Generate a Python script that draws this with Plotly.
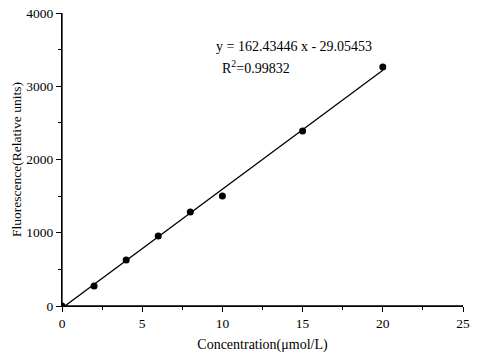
import plotly.graph_objects as go

conc = [0, 2, 4, 6, 8, 10, 15, 20]
fluor = [0, 273, 628, 956, 1283, 1502, 2389, 3263]
slope = 162.43446
intercept = -29.05453
r2 = 0.99832
fit_x = [0, 20]
fit_y = [slope * v + intercept for v in fit_x]

font_family = "Liberation Serif, Times New Roman, serif"

fig = go.Figure()
fig.add_trace(go.Scatter(x=fit_x, y=fit_y, mode="lines",
                         line=dict(color="black", width=1.3), showlegend=False))
fig.add_trace(go.Scatter(x=conc, y=fluor, mode="markers",
                         marker=dict(color="black", size=7), showlegend=False))

fig.add_annotation(x=0.379, y=0.885, xref="paper", yref="paper", xanchor="left", yanchor="middle",
                   text=f"y = {slope:.5f} x - {abs(intercept):.5f}", showarrow=False,
                   font=dict(family=font_family, size=14, color="black"))
fig.add_annotation(x=0.394, y=0.817, xref="paper", yref="paper", xanchor="left", yanchor="middle",
                   text=f"R<sup>2</sup>={r2:.5f}", showarrow=False,
                   font=dict(family=font_family, size=14, color="black"))

# axis lines (frame on left and bottom only)
fig.add_shape(type="line", xref="paper", yref="paper", x0=0, x1=0, y0=0, y1=1,
              line=dict(color="black", width=1.3), layer="above")
fig.add_shape(type="line", xref="paper", yref="paper", x0=0, x1=1, y0=0, y1=0,
              line=dict(color="black", width=1.3), layer="above")

axis_common = dict(showline=True, linecolor="black", linewidth=1.3, ticks="outside",
                   ticklen=5, tickwidth=1.2, tickcolor="black", showgrid=False, zeroline=False,
                   tickfont=dict(family=font_family, size=13.5, color="black"),
                   mirror=False, automargin=False)

fig.update_xaxes(range=[0, 25], tickvals=[0, 5, 10, 15, 20, 25],
                 minor=dict(ticks="outside", ticklen=3, tickcolor="black", dtick=2.5, tick0=0),
                 title=dict(text="Concentration(μmol/L)", font=dict(family=font_family, size=14, color="black"), standoff=8),
                 **axis_common)
fig.update_yaxes(range=[0, 4000], tickvals=[0, 1000, 2000, 3000, 4000],
                 minor=dict(ticks="outside", ticklen=3, tickcolor="black", dtick=500, tick0=0),
                 title=dict(text="Fluorescence(Relative units)", font=dict(family=font_family, size=13.5, color="black"), standoff=1),
                 **axis_common)

fig.update_layout(width=480, height=360, margin=dict(l=62, r=17, t=13, b=54),
                  plot_bgcolor="white", paper_bgcolor="white")
fig.write_html("out.html", config={"displayModeBar": False},
               post_script="document.body.style.margin='0';document.body.style.overflow='hidden';")
